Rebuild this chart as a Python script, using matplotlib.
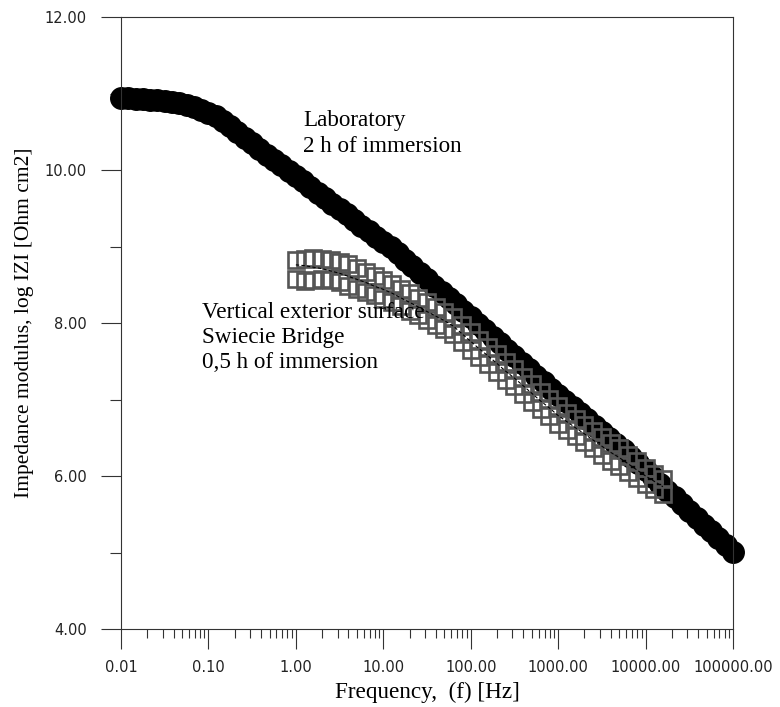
import numpy as np
import matplotlib
matplotlib.use("Agg")
import matplotlib.pyplot as plt
from matplotlib.ticker import FixedLocator, LogLocator, NullFormatter

# ---- data ----
# measurement frequencies: 12 points per decade, 0.01 Hz .. 100 kHz
lab_mults = [1.0, 1.21, 1.47, 1.78, 2.15, 2.61, 3.16, 3.83, 4.64, 5.62, 6.81, 8.25]
lab_freq = [m * 10.0 ** d for d in range(-2, 5) for m in lab_mults] + [100000.0]
lab_logz = [10.94, 10.94, 10.93, 10.93, 10.92, 10.91, 10.90, 10.89, 10.87, 10.85, 10.82, 10.79,
            10.75, 10.70, 10.64, 10.57, 10.50, 10.42, 10.35, 10.28, 10.20, 10.13, 10.06, 9.99,
            9.92, 9.85, 9.78, 9.70, 9.63, 9.56, 9.49, 9.42, 9.35, 9.27, 9.20, 9.13,
            9.06, 8.99, 8.91, 8.83, 8.74, 8.65, 8.57, 8.49, 8.41, 8.33, 8.25, 8.16,
            8.08, 7.99, 7.91, 7.82, 7.74, 7.65, 7.57, 7.48, 7.40, 7.31, 7.23, 7.14,
            7.06, 6.98, 6.90, 6.82, 6.74, 6.66, 6.58, 6.50, 6.42, 6.34, 6.25, 6.17,
            6.08, 5.99, 5.90, 5.81, 5.72, 5.63, 5.54, 5.45, 5.36, 5.28, 5.19, 5.10,
            5.01]

field_freq = [1.0, 1.26, 1.58, 2.0, 2.51, 3.16, 3.98, 5.01, 6.31, 7.94,
              10.0, 12.6, 15.8, 20.0, 25.1, 31.6, 39.8, 50.1, 63.1, 79.4,
              100.0, 126.0, 158.0, 200.0, 251.0, 316.0, 398.0, 501.0, 631.0, 794.0,
              1000.0, 1260.0, 1580.0, 2000.0, 2510.0, 3160.0, 3980.0, 5010.0, 6310.0, 7940.0,
              10000.0, 12600.0, 15800.0]
field_upper = [8.82, 8.84, 8.85, 8.84, 8.82, 8.80, 8.77, 8.72, 8.67, 8.62,
               8.56, 8.51, 8.45, 8.39, 8.33, 8.27, 8.21, 8.15, 8.08, 7.98,
               7.88, 7.78, 7.69, 7.59, 7.49, 7.40, 7.30, 7.20, 7.10, 7.01,
               6.91, 6.83, 6.75, 6.67, 6.59, 6.51, 6.43, 6.36, 6.28, 6.20,
               6.11, 6.03, 5.96]
field_lower = [8.58, 8.55, 8.56, 8.58, 8.56, 8.54, 8.49, 8.45, 8.40, 8.36,
               8.32, 8.28, 8.22, 8.16, 8.10, 8.04, 7.98, 7.92, 7.85, 7.75,
               7.65, 7.55, 7.46, 7.36, 7.26, 7.17, 7.07, 6.97, 6.87, 6.78,
               6.68, 6.60, 6.52, 6.44, 6.36, 6.28, 6.20, 6.13, 6.05, 5.97,
               5.90, 5.83, 5.76]
field_fit = [8.76, 8.75, 8.73, 8.71, 8.68, 8.65, 8.61, 8.57, 8.53, 8.48,
             8.44, 8.39, 8.33, 8.27, 8.21, 8.15, 8.09, 8.03, 7.96, 7.86,
             7.76, 7.66, 7.57, 7.47, 7.37, 7.28, 7.18, 7.08, 6.98, 6.89,
             6.79, 6.71, 6.63, 6.55, 6.47, 6.39, 6.31, 6.24, 6.16, 6.08,
             6.00, 5.93, 5.86]

x_ticks = [0.01, 0.1, 1, 10, 100, 1000, 10000, 100000]
x_ticklabels = ["0.01", "0.10", "1.00", "10.00", "100.00", "1000.00", "10000.00", "100000.00"]
y_ticks = [4, 6, 8, 10, 12]
y_ticklabels = ["4.00", "6.00", "8.00", "10.00", "12.00"]
y_minor = [5, 7, 9, 11]

lab_label = "Laboratory\n2 h of immersion"
field_label = "Vertical exterior surface\nSwiecie Bridge\n0,5 h of immersion"

# ---- figure ----
fig = plt.figure(figsize=(7.8, 7.07), dpi=100)
ax = fig.add_axes([121/780, 1-629/707, (733-121)/780, (629-17)/707])

ax.plot(lab_freq, lab_logz, 'o', color='black', markersize=15.5, zorder=2, clip_on=False)
ax.plot(field_freq, field_upper, 's', markerfacecolor='none', markeredgecolor='#555555',
        markeredgewidth=1.9, markersize=11, zorder=3)
ax.plot(field_freq, field_lower, 's', markerfacecolor='none', markeredgecolor='#555555',
        markeredgewidth=1.9, markersize=11, zorder=3)
ax.plot(field_freq, field_fit, color='black', linewidth=0.8, dashes=(3, 2), zorder=4)

ax.set_xscale('log')
ax.set_xlim(0.01, 100000)
ax.set_ylim(4, 12)

tick_font = dict(family='DejaVu Sans', size=10.5)
ax.xaxis.set_major_locator(FixedLocator(x_ticks))
ax.set_xticklabels(x_ticklabels, fontdict=tick_font, color='#222222')
ax.xaxis.set_minor_locator(LogLocator(base=10, subs=np.arange(2, 10)))
ax.xaxis.set_minor_formatter(NullFormatter())
ax.set_yticks(y_ticks)
ax.set_yticklabels(y_ticklabels, fontdict=tick_font, color='#222222')
ax.set_yticks(y_minor, minor=True)

ax.tick_params(axis='x', which='major', direction='out', length=14.5, width=0.8, pad=8, color='#333333')
ax.tick_params(axis='x', which='minor', direction='out', length=6.5, width=0.8, color='#333333')
ax.tick_params(axis='y', which='major', direction='out', length=14.5, width=0.8, pad=10, color='#333333')
ax.tick_params(axis='y', which='minor', direction='out', length=8, width=0.8, color='#333333')

for s in ax.spines.values():
    s.set_linewidth(0.8)
    s.set_color('#333333')

serif = dict(family='Liberation Serif', size=16.7)
ax.set_xlabel("Frequency,  (f) [Hz]", fontdict=serif, labelpad=5)
ax.set_ylabel("Impedance modulus, log IZI [Ohm cm2]", fontdict=dict(family='Liberation Serif', size=15.5),
              labelpad=8)

ax.text(1.21, 10.78, lab_label, fontdict=serif, va='top', ha='left', linespacing=1.27)
ax.text(0.0845, 8.28, field_label, fontdict=serif, va='top', ha='left', linespacing=1.27)

fig.savefig("out.png", dpi=100)
